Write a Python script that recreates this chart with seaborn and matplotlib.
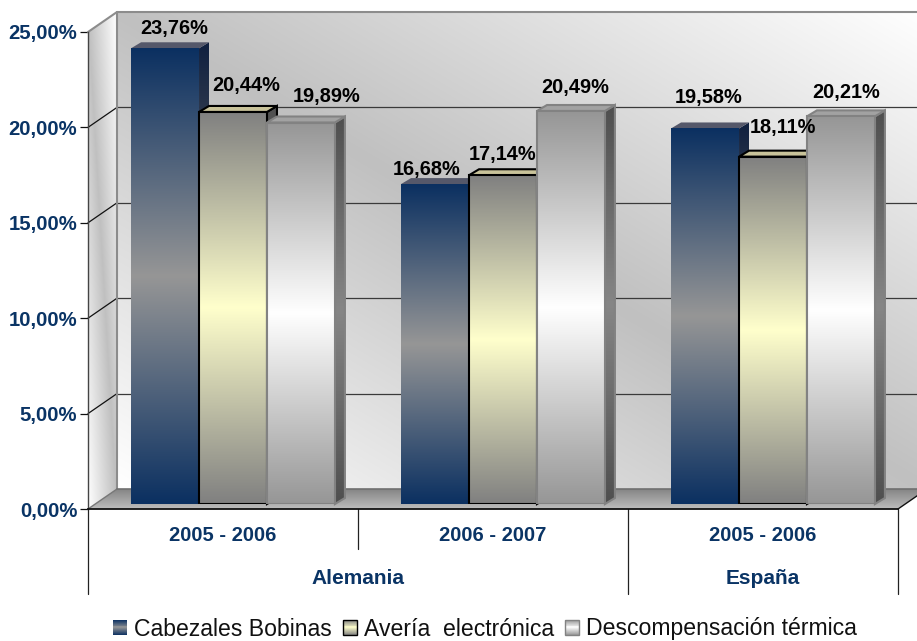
import numpy as np
import pandas as pd
import matplotlib
matplotlib.use("Agg")
import matplotlib.pyplot as plt
import seaborn as sns
from matplotlib.colors import LinearSegmentedColormap, to_rgb
from matplotlib.patches import Patch, Polygon, Rectangle
from matplotlib.legend_handler import HandlerBase

# ---------- data ----------
tramos = ["Alemania 2005 - 2006", "Alemania 2006 - 2007", "España 2005 - 2006"]
tick_labels = ["2005 - 2006", "2006 - 2007", "2005 - 2006"]
grupos = ["Alemania", "España"]
grupo_centros = [0.5, 2.0]
causas = ["Cabezales Bobinas", "Avería  electrónica", "Descompensación térmica"]
cabezales = [23.76, 16.68, 19.58]
averia = [20.44, 17.14, 18.11]
descompensacion = [19.89, 20.49, 20.21]
y_ticks = [0, 5, 10, 15, 20, 25]

# ---------- styles / layout ----------
W, H = 917, 641
NAVY = "#0a3465"
end_cols = ["#0b3061", "#808080", "#969696"]
mid_cols = ["#969696", "#ffffcc", "#ffffff"]
top_cols = ["#55586a", "#c9c39a", "#a2a2a2"]
edge_cols = ["none", "#000000", "#828282"]
edge_lw = [0, 1.5, 1.5]
label_dx = [[9, 13, 26], [-8, 0, 4], [4, 10, 5]]
label_dy = [[20, 26, 26], [15, 21, 24], [31, 29, 24]]

sns.set_theme(style="white")
plt.rcParams["font.family"] = ["Liberation Sans", "DejaVu Sans"]

df = pd.DataFrame({
    "tramo": tramos * 3,
    "causa": np.repeat(causas, 3),
    "valor": cabezales + averia + descompensacion,
})

fig = plt.figure(figsize=(W / 100, H / 100), dpi=100, facecolor="white")


def axes_px(left, right, top, bottom):
    return fig.add_axes([left / W, 1 - bottom / H, (right - left) / W, (bottom - top) / H])


# Front plane: carries the value axis and the category axis
ax_f = axes_px(88, 898, 32, 509)
# Bar plane: sits a little deeper inside the 3D box
ax = axes_px(98, 908, 504 - 19.18 * 25, 504)
ax_f.set_zorder(0)
ax.set_zorder(1)
ax.patch.set_visible(False)
ax_f.patch.set_visible(False)

XPX, YPX = 270.0, 477 / 25
DX, DY = 29 / XPX, 20 / YPX  # depth of the box in front-plane data units


def bk(x, y):
    return (x + DX, y + DY)


def three_stop(t, edge, mid):
    edge, mid = np.array(to_rgb(edge)), np.array(to_rgb(mid))
    t = np.asarray(t)[..., None]
    return edge + (mid - edge) * (1 - np.abs(2 * t - 1))


def diag_gradient(n=200):
    u, v = np.meshgrid(np.linspace(0, 1, n), np.linspace(0, 1, n))
    t = (u + v) / 2  # origin lower: white at lower-left and upper-right
    return three_stop(t, "#ffffff", "#c0c0c0")


# Back wall
ax_f.imshow(diag_gradient(), origin="lower", aspect="auto", zorder=0, clip_on=False,
            extent=(-0.5 + DX, 2.5 + DX, DY, 25 + DY), interpolation="bilinear")
# Side wall
side_img = ax_f.imshow(diag_gradient(), origin="lower", aspect="auto", zorder=0.5,
                       extent=(-0.5, -0.5 + DX, 0, 25 + DY), interpolation="bilinear")
side_poly = Polygon([(-0.5, 0), (-0.5, 25), bk(-0.5, 25), bk(-0.5, 0)], closed=True,
                    transform=ax_f.transData, fc="none", ec="none")
ax_f.add_patch(side_poly)
side_poly.set_clip_on(False)
side_img.set_clip_path(side_poly)
side_img.set_clip_box(fig.bbox)
# Floor
floor_cm = LinearSegmentedColormap.from_list("floor", ["#bdbdbd", "#858585"])
floor_img = ax_f.imshow(np.linspace(0, 1, 64)[:, None], origin="lower", aspect="auto", cmap=floor_cm,
                        extent=(-0.5, 2.5 + DX, 0, DY), zorder=1, interpolation="bilinear")
floor_poly = Polygon([(-0.5, 0), bk(-0.5, 0), bk(2.5, 0), (2.5, 0)], closed=True,
                     transform=ax_f.transData, fc="none", ec="none")
ax_f.add_patch(floor_poly)
floor_poly.set_clip_on(False)
floor_img.set_clip_path(floor_poly)
floor_img.set_clip_box(fig.bbox)

# Grid lines on walls
for v in y_ticks[1:-1]:
    x0, y0 = bk(-0.5, v)
    x1, y1 = bk(2.5, v)
    ax_f.plot([-0.5, x0], [v, y0], color="#111111", lw=0.9, zorder=2, clip_on=False)
    ax_f.plot([x0, x1], [y0, y1], color="#3a3a3a", lw=0.9, zorder=2, clip_on=False)
x0, y0 = bk(-0.5, 25)
x1, y1 = bk(2.5, 25)
xb, yb = bk(-0.5, 0)
ax_f.plot([-0.5, x0, x1], [25, y0, y1], color="#8c8c8c", lw=1.5, zorder=2, clip_on=False)
ax_f.plot([x0, xb], [y0, yb], color="#8c8c8c", lw=1.5, zorder=2, clip_on=False)
ax_f.plot([-0.5, xb], [0, yb], color="#777777", lw=1.0, zorder=2, clip_on=False)
ax_f.plot([xb, bk(2.5, 0)[0]], [yb, yb], color="#707070", lw=1.2, zorder=2, clip_on=False)
ax_f.plot([2.5, bk(2.5, 0)[0]], [0, DY], color="#111111", lw=1.0, zorder=2, clip_on=False)

# Axes setup for front plane
ax_f.set_xlim(-0.5, 2.5)
ax_f.set_ylim(0, 25)
ax_f.set_yticks(y_ticks)
ax_f.set_yticklabels([f"{v:.2f}%".replace(".", ",") for v in y_ticks], color=NAVY,
                     fontweight="bold", fontsize=14.6)
ax_f.set_xticks(range(3))
ax_f.set_xticklabels(tick_labels, color=NAVY, fontweight="bold", fontsize=14.5)
ax_f.tick_params(axis="y", length=5.8, width=0.9, color="#111111", pad=2, left=True)
ax_f.tick_params(axis="x", length=0, pad=12.5)
for s in ["top", "right"]:
    ax_f.spines[s].set_visible(False)
ax_f.spines["bottom"].set_color("#111111")
ax_f.spines["bottom"].set_linewidth(1.3)
ax_f.spines["bottom"].set_zorder(3)
ax_f.spines["left"].set_color("#444444")
ax_f.spines["left"].set_linewidth(1.0)
ax_f.set_xlabel("")

# Multi-level category separators and group labels
low = -(594 - 509) / YPX
mid = -(549 - 509) / YPX
for x, y_end in zip([-0.5, 0.5, 1.5, 2.5], [low, mid, low, low]):
    ax_f.plot([x, x], [0, y_end], color="#222222", lw=0.9, clip_on=False, zorder=3)
for name, xc in zip(grupos, grupo_centros):
    ax_f.text(xc, -(578 - 509) / YPX, name, color=NAVY, fontweight="bold", fontsize=15,
              ha="center", va="center", clip_on=False)

# Bars
sns.barplot(data=df, x="tramo", y="valor", hue="causa", order=tramos, hue_order=causas,
            palette=end_cols, width=0.755, gap=0, saturation=1, legend=False, ax=ax)
ax.set_xlim(-0.5, 2.5)
ax.set_ylim(0, 25)
ax.set_axis_off()

BX, BY = 10 / XPX, 6 / 19.18
for s, cont in enumerate(ax.containers):
    grad = three_stop(np.linspace(0, 1, 256)[:, None], end_cols[s], mid_cols[s])
    for g, bar in enumerate(cont.patches):
        x, y, w, h = bar.get_x(), bar.get_y(), bar.get_width(), bar.get_height()
        z = 3 + s + 3 * g
        ec = edge_cols[s]
        lw = edge_lw[s]
        # front face gradient
        im = ax.imshow(grad, origin="lower", aspect="auto", extent=(x, x + w, 0, h),
                       zorder=z + 0.2, interpolation="bilinear")
        im.set_clip_path(bar)
        bar.set_facecolor("none")
        bar.set_edgecolor(ec)
        bar.set_linewidth(lw)
        bar.set_zorder(z + 0.3)
        # top face
        ax.add_patch(Polygon([(x, h), (x + BX, h + BY), (x + w + BX, h + BY), (x + w, h)],
                             closed=True, fc=top_cols[s], ec=ec, lw=lw, zorder=z + 0.1,
                             clip_on=False))
        # side face gradient
        side_grad = three_stop(np.linspace(0, 1, 256)[:, None], "#4f4f4f", "#868686")
        if s == 0:
            side_grad = three_stop(np.linspace(0, 1, 256)[:, None], "#10203f", "#6a6a6a")
        sim = ax.imshow(side_grad, origin="lower", aspect="auto", zorder=z + 0.05,
                        extent=(x + w, x + w + BX, 0, h + BY), interpolation="bilinear")
        sp = Polygon([(x + w, 0), (x + w + BX, BY), (x + w + BX, h + BY), (x + w, h)],
                     closed=True, fc="none", ec="none", transform=ax.transData)
        ax.add_patch(sp)
        sp.set_clip_on(False)
        sim.set_clip_path(sp)
        sim.set_clip_box(fig.bbox)
        ax.add_patch(Polygon([(x + w, 0), (x + w + BX, BY), (x + w + BX, h + BY), (x + w, h)],
                             closed=True, fc="none", ec=ec, lw=lw, zorder=z + 0.07, clip_on=False))
        # value label
        ax.annotate(f"{h:.2f}%".replace(".", ","), (x + w / 2, h),
                    xytext=(label_dx[g][s], label_dy[g][s]), textcoords="offset pixels",
                    ha="center", va="center", fontweight="bold", fontsize=14.4, color="black",
                    zorder=40, annotation_clip=False)
ax.set_xlim(-0.5, 2.5)
ax.set_ylim(0, 25)


class GradHandler(HandlerBase):
    def __init__(self, edge, mid, ec):
        super().__init__()
        self.edge, self.mid, self.ec = edge, mid, ec

    def create_artists(self, legend, orig_handle, xdescent, ydescent, width, height, fontsize, trans):
        arts = []
        n = 16
        for i in range(n):
            c = three_stop(np.array([(i + 0.5) / n]), self.edge, self.mid)[0]
            arts.append(Rectangle((-xdescent, -ydescent + height * i / n), width, height / n + 0.2,
                                  fc=c, ec="none", transform=trans))
        arts.append(Rectangle((-xdescent, -ydescent), width, height, fc="none",
                              ec=self.ec if self.ec != "none" else "none", lw=1.0, transform=trans))
        return arts


handles = [Patch(label=c) for c in causas]
hmap = {h: GradHandler(end_cols[i], mid_cols[i], edge_cols[i]) for i, h in enumerate(handles)}
fig.legend(handles=handles, handler_map=hmap, loc="center", ncol=3, frameon=False,
           bbox_to_anchor=(485 / W, 1 - 629 / H), fontsize=16.6, borderpad=0, borderaxespad=0,
           handlelength=0.6, handleheight=0.6, handletextpad=0.3, columnspacing=0.5,
           labelcolor="#111111")

fig.savefig("out.png", dpi=100)
